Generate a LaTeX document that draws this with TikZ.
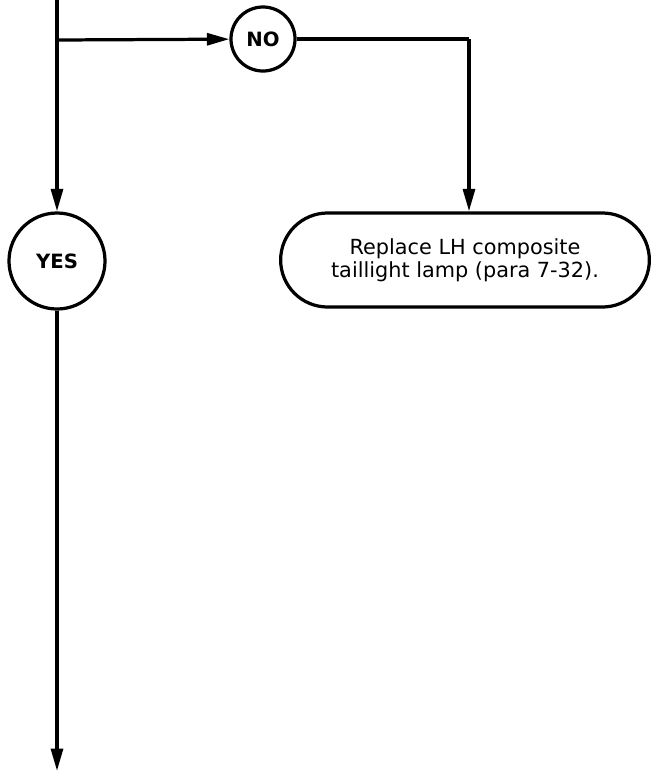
\documentclass[tikz,border=0pt]{standalone}
\usepackage{fontspec}
\setmainfont{DejaVu Sans}
\usetikzlibrary{arrows.meta, positioning, shapes.misc}

\tikzset{
  decision/.style={circle, draw=black, line width=2.3pt, inner sep=0pt, font=\bfseries\fontsize{14}{16}\selectfont},
  action/.style={rounded rectangle, draw=black, line width=2.3pt, minimum width=9.45cm, minimum height=2.35cm, align=center, font=\fontsize{14.8}{16.5}\selectfont},
  flow/.style={line width=2.3pt, -{Triangle[length=16pt, width=8.5pt]}},
  plain/.style={line width=2.3pt}
}

\begin{document}
\begin{tikzpicture}[x=0.025cm, y=-0.025cm]
        \useasboundingbox (0,0) rectangle (654,771);

        \coordinate (top) at (57,0);
        \coordinate (split) at (57,40);
        \node[decision, minimum size=1.6cm] (no) at (263,39) {NO};
        \node[decision, minimum size=2.4cm] (yes) at (57,261) {YES};
        \node[action] (lamp) at (465,260) {Replace LH composite\\taillight lamp (para 7-32).};
        \coordinate (bend) at (469,39);
        \coordinate (bottom) at (57,771);

        \draw[flow] (top) -- (yes);
        \draw[flow] (split) -- (no);
        \draw[plain] (no) -- (bend);
        \draw[flow] (bend) -- (bend |- lamp.north);
        \draw[flow] (yes) -- (bottom);
    \end{tikzpicture}
\end{document}
